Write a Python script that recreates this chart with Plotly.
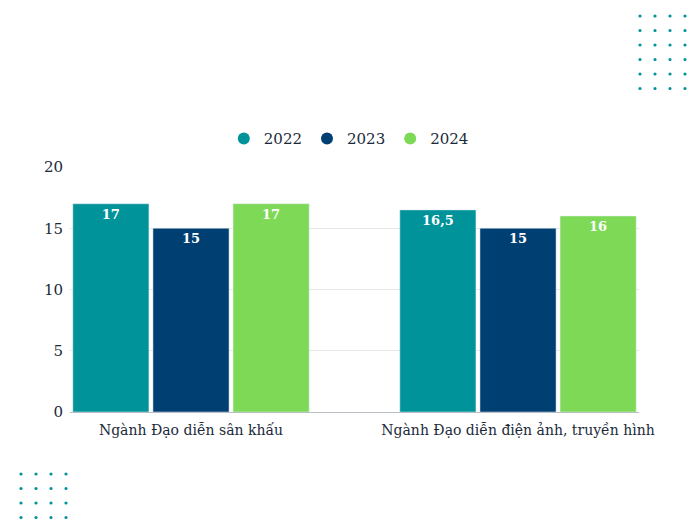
import plotly.graph_objects as go

categories = ["Ngành Đạo diễn sân khấu", "Ngành Đạo diễn điện ảnh, truyền hình"]
years = ["2022", "2023", "2024"]
values_2022 = [17, 16.5]
values_2023 = [15, 15]
values_2024 = [17, 16]
labels_2022 = ["17", "16,5"]
labels_2023 = ["15", "15"]
labels_2024 = ["17", "16"]
y_ticks = [0, 5, 10, 15, 20]

colors = ["#00939A", "#003F72", "#7ED957"]
series = [values_2022, values_2023, values_2024]
labels = [labels_2022, labels_2023, labels_2024]
FONT = "DejaVu Serif"
TXT = "#1B2A3A"

W, H = 700, 525
OFF = 8  # page offset of the rendered figure
L, R, T, B = 62, 69, 159, 121

fig = go.Figure()
for name, vals, lab, col in zip(years, series, labels, colors):
    fig.add_trace(go.Bar(
        x=categories, y=vals, name=name, marker_color=col,
        text=lab, textposition="inside", insidetextanchor="end",
        textfont=dict(family=FONT, size=13, color="white", weight="bold"),
        showlegend=False, hoverinfo="skip",
    ))
for name, col in zip(years, colors):
    fig.add_trace(go.Scatter(
        x=[None], y=[None], mode="markers", name=name,
        marker=dict(symbol="circle", size=15, color=col),
    ))

# decorative dot grids (positions in screen pixels)
shapes = []
pw, ph = W - L - R, H - T - B
def add_dot(sx, sy, r=1.6):
    px, py = sx - OFF, sy - OFF
    shapes.append(dict(
        type="circle", xref="paper", yref="paper",
        x0=(px - r - L) / pw, x1=(px + r - L) / pw,
        y0=(H - B - (py + r)) / ph, y1=(H - B - (py - r)) / ph,
        fillcolor="#00939A", line_width=0,
    ))
for i in range(4):
    for j in range(6):
        add_dot(640 + 15 * i, 16 + 14.5 * j)
for i in range(4):
    for j in range(4):
        add_dot(21 + 15 * i, 474 + 14.5 * j)

fig.update_layout(
    width=W, height=H,
    margin=dict(l=L, r=R, t=T, b=B),
    paper_bgcolor="white", plot_bgcolor="white",
    barmode="group", bargap=0.265, bargroupgap=0.05,
    font=dict(family=FONT, color=TXT, size=15),
    legend=dict(orientation="h", x=0.49, xanchor="center", y=1.115, yanchor="middle",
                font=dict(family=FONT, size=15, color=TXT), itemsizing="constant",
                traceorder="normal", itemwidth=30),
    shapes=shapes,
    uniformtext=dict(mode="show", minsize=8),
)
fig.update_xaxes(range=[-0.37, 1.37], showline=True, linecolor="#B8BEC4", linewidth=1,
                 ticks="", tickfont=dict(family=FONT, size=14, color=TXT), showgrid=False,
                 ticklabelstandoff=5)
fig.update_yaxes(range=[0, 20], tickvals=y_ticks, showgrid=True, gridcolor="#E6E6E6",
                 zeroline=False, showline=False, ticks="",
                 tickfont=dict(family=FONT, size=15, color=TXT), ticklabelstandoff=6)

fig.write_html("out.html")
